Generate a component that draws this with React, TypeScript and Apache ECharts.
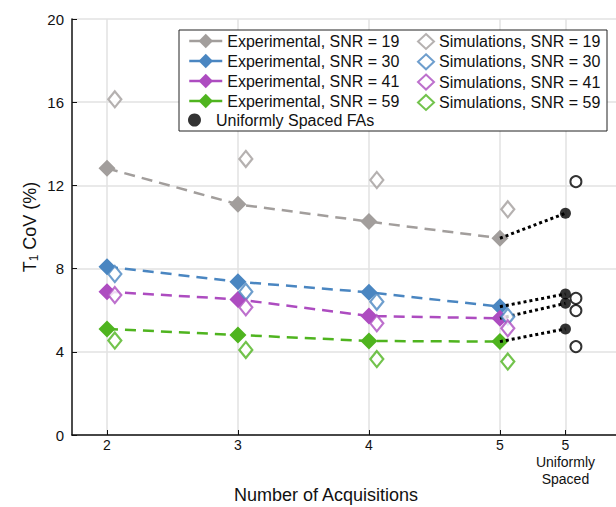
import React, { useEffect, useRef } from "react";
import * as echarts from "echarts";

const xPositions = [2, 3, 4, 5];
const uniformPosition = 5.5;
const tickValues = [2, 3, 4, 5, 5.5];
const tickLabels = ["2", "3", "4", "5", "5\nUniformly\nSpaced"];

const snrLevels = ["19", "30", "41", "59"];
const colors = ["#a29e9c", "#4a86c1", "#ad4cc0", "#4fb41f"];

const exp19 = [12.82, 11.09, 10.26, 9.46];
const exp30 = [8.09, 7.37, 6.86, 6.17];
const exp41 = [6.89, 6.52, 5.72, 5.61];
const exp59 = [5.1, 4.81, 4.52, 4.49];

const sim19 = [16.14, 13.27, 12.26, 10.85];
const sim30 = [7.74, 6.89, 6.41, 5.69];
const sim41 = [6.73, 6.14, 5.37, 5.13];
const sim59 = [4.54, 4.09, 3.65, 3.53];

const uniformExp = [10.66, 6.78, 6.33, 5.1];
const uniformSim = [12.18, 6.57, 5.98, 4.25];

const SIM_OFFSET = 0.06;

const FONT = "Liberation Sans, Arial, Helvetica, sans-serif";

export default function App() {
  const ref = useRef<HTMLDivElement>(null);
  useEffect(() => {
    if (!ref.current) return;
    const chart = echarts.init(ref.current, undefined, { renderer: "svg" });
    const expAll = [exp19, exp30, exp41, exp59];
    const simAll = [sim19, sim30, sim41, sim59];
    const expNames = snrLevels.map((s) => `Experimental, SNR = ${s}`);
    const simNames = snrLevels.map((s) => `Simulations, SNR = ${s}`);
    const uniName = "Uniformly Spaced FAs";

    const series: any[] = [];
    expAll.forEach((arr, i) => {
      series.push({
        name: expNames[i],
        type: "line",
        data: arr.map((v, k) => [xPositions[k], v]),
        symbol: "diamond",
        symbolSize: 17,
        itemStyle: { color: colors[i] },
        lineStyle: { color: colors[i], width: 2.5, type: [11, 7] },
        z: 2,
      });
    });
    expAll.forEach((arr, i) => {
      series.push({
        name: "conn" + i,
        type: "line",
        data: [
          [xPositions[xPositions.length - 1], arr[arr.length - 1]],
          [uniformPosition, uniformExp[i]],
        ],
        symbol: "none",
        lineStyle: { color: "#000", width: 3, type: [3, 3] },
        z: 3,
      });
    });
    simAll.forEach((arr, i) => {
      series.push({
        name: simNames[i],
        type: "scatter",
        data: arr.map((v, k) => [xPositions[k] + SIM_OFFSET, v]),
        symbol: "diamond",
        symbolSize: [13, 16],
        itemStyle: { color: "#ffffff", borderColor: colors[i], borderWidth: 2.2 },
        z: 4,
      });
    });
    series.push({
      name: uniName,
      type: "scatter",
      data: uniformExp.map((v) => [uniformPosition, v]),
      symbol: "circle",
      symbolSize: 11,
      itemStyle: { color: "#000" },
      z: 4,
    });
    series.push({
      name: "uniformSim",
      type: "scatter",
      data: uniformSim.map((v) => [uniformPosition + SIM_OFFSET + 0.02, v]),
      symbol: "circle",
      symbolSize: 11,
      itemStyle: { color: "#ffffff", borderColor: "#000", borderWidth: 2 },
      z: 4,
    });

    const legendText = { fontFamily: FONT, fontSize: 16, color: "#111" };

    chart.setOption({
      animation: false,
      textStyle: { fontFamily: FONT },
      grid: { left: 72, right: 0, top: 19, bottom: 72, containLabel: false, outerBoundsMode: "none" },
      graphic: [
        {
          type: "rect",
          shape: { x: 179, y: 30, width: 428, height: 101 },
          style: { fill: "#fff", stroke: "#222", lineWidth: 1 },
          z: 3,
        },
      ],
      legend: [
        {
          data: expNames,
          orient: "vertical",
          left: 183,
          top: 28,
          itemWidth: 33,
          itemHeight: 18,
          itemGap: 4,
          selectedMode: false,
          textStyle: legendText,
          lineStyle: { type: "solid", width: 2.5 },
          z: 5,
        },
        {
          data: [{ name: uniName, icon: "circle" }],
          orient: "vertical",
          left: 183,
          top: 107,
          itemWidth: 33,
          itemHeight: 13,
          itemGap: 4,
          selectedMode: false,
          textStyle: legendText,
          z: 5,
        },
        {
          data: simNames,
          orient: "vertical",
          left: 412,
          top: 28,
          itemWidth: 16,
          itemHeight: 15,
          itemGap: 3.3,
          selectedMode: false,
          textStyle: legendText,
          z: 5,
        },
      ],
      xAxis: {
        type: "value",
        min: 1.733,
        max: 5.886,
        name: "Number of Acquisitions",
        nameLocation: "middle",
        nameGap: 51,
        nameMoveOverlap: false,
        nameTextStyle: { fontFamily: FONT, fontSize: 18, color: "#111", padding: [0, 36, 0, 0] },
        axisLine: { show: true, onZero: false, lineStyle: { color: "#111", width: 1.5 } },
        axisTick: { show: true, inside: true, length: 5, customValues: tickValues, lineStyle: { color: "#111" } },
        axisLabel: {
          customValues: tickValues,
          margin: 1,
          fontFamily: FONT,
          fontSize: 14,
          lineHeight: 17,
          color: "#111",
          formatter: (v: number) => {
            const idx = tickValues.indexOf(v);
            return idx >= 0 ? tickLabels[idx] : "";
          },
        },
        splitLine: { show: true, lineStyle: { color: "#e2e2e2", width: 1.5 } },
      },
      yAxis: {
        type: "value",
        min: 0,
        max: 20,
        interval: 4,
        name: "T{sub|1} CoV (%)",
        nameLocation: "middle",
        nameGap: 32,
        nameMoveOverlap: false,
        nameTextStyle: {
          fontFamily: FONT,
          fontSize: 18,
          color: "#111",
          rich: { sub: { fontFamily: FONT, fontSize: 12, color: "#111", verticalAlign: "bottom", padding: [8, 0, 0, 0] } },
        },
        axisLine: { show: true, lineStyle: { color: "#111", width: 1.5 } },
        axisTick: { show: true, inside: true, length: 5, lineStyle: { color: "#111" } },
        axisLabel: { margin: 8, fontFamily: FONT, fontSize: 15, color: "#111" },
        splitLine: { show: true, lineStyle: { color: "#e2e2e2", width: 1.5 } },
      },
      series,
    });
    return () => chart.dispose();
  }, []);
  return <div ref={ref} style={{ width: 616, height: 507, position: "absolute", left: 0, top: 0 }} />;
}
